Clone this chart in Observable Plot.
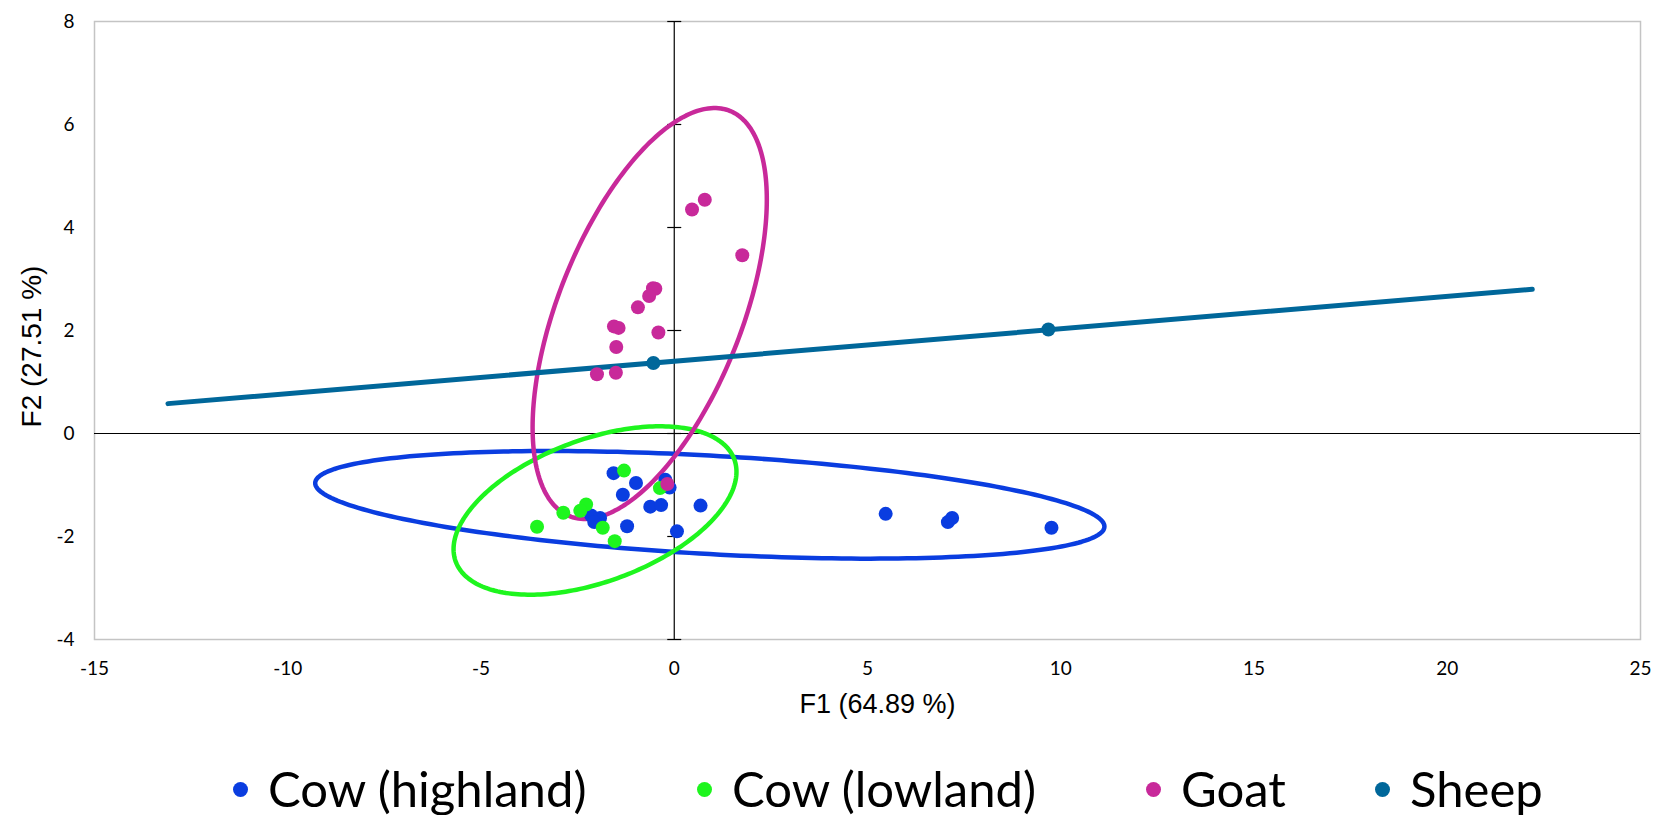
<!DOCTYPE html>
<html>
<head>
<meta charset="utf-8">
<script src="https://cdn.jsdelivr.net/npm/d3@7"></script>
<script src="https://cdn.jsdelivr.net/npm/@observablehq/plot@0.6"></script>
<style>
  html, body { margin: 0; padding: 0; background: #fff; overflow: hidden; }
  #chart { width: 1655px; }
  #legend { position: relative; width: 1655px; height: 80px; font-family: Lato, "Open Sans", sans-serif; }
  .item { position: absolute; top: 0; height: 80px; }
  .dot { position: absolute; width: 15px; height: 15px; border-radius: 50%; top: 47px; left: 0; }
  .lab { position: absolute; left: 35px; top: 29px; font-size: 49px; line-height: 49px; white-space: nowrap; color: #000; }
  .title { font-family: "Liberation Sans", Arial, sans-serif; }
</style>
</head>
<body>
<div id="chart"></div>
<div id="legend"></div>
<script>
// ---- data ----
const xTicks = [-15, -10, -5, 0, 5, 10, 15, 20, 25];
const yTicks = [-4, -2, 0, 2, 4, 6, 8];

const seriesNames = ["Cow (highland)", "Cow (lowland)", "Goat", "Sheep"];
const seriesColors = ["#0a3de0", "#1ef51e", "#c8299a", "#00679a"];

const cowHighlandX = [-1.57, -0.99, -1.33, -0.23, -0.12, -0.62, -0.34, 0.68, -2.15, -1.92, -2.07, -1.22, 0.07, 5.47, 7.08, 7.19, 9.76];
const cowHighlandY = [-0.77, -0.96, -1.19, -0.90, -1.05, -1.42, -1.39, -1.40, -1.59, -1.64, -1.72, -1.80, -1.90, -1.56, -1.72, -1.64, -1.83];

const cowLowlandX = [-1.30, -0.37, -2.28, -2.43, -2.87, -3.55, -1.85, -1.54];
const cowLowlandY = [-0.72, -1.06, -1.38, -1.50, -1.54, -1.81, -1.83, -2.09];

const goatX = [0.46, 0.79, 1.76, -0.55, -0.49, -0.65, -0.94, -1.56, -1.44, -0.41, -1.50, -2.00, -1.51, -0.18];
const goatY = [4.35, 4.54, 3.46, 2.82, 2.81, 2.67, 2.45, 2.08, 2.05, 1.96, 1.68, 1.15, 1.18, -0.98];

const sheepX = [-0.54, 9.68];
const sheepY = [1.37, 2.02];

// degenerate confidence ellipse of Sheep (a segment)
const sheepLineX = [-13.1, 22.2];
const sheepLineY = [0.58, 2.80];

// confidence ellipses: centre, x/y half-extents, covariance term
const ellipseGroups = ["Cow (highland)", "Cow (lowland)", "Goat"];
const ellipseCx = [0.92, -2.05, -0.635];
const ellipseCy = [-1.385, -1.495, 2.33];
const ellipseSx = [10.21, 3.66, 3.03];
const ellipseSy = [1.045, 1.635, 3.99];
const ellipseCov = [-4.3, 2.75, 6.7];

// ---- build tables ----
const pts = (name, xs, ys) => xs.map((x, i) => ({series: name, x, y: ys[i]}));
const cowH = pts(seriesNames[0], cowHighlandX, cowHighlandY);
const cowL = pts(seriesNames[1], cowLowlandX, cowLowlandY);
const goat = pts(seriesNames[2], goatX, goatY);
const sheep = pts(seriesNames[3], sheepX, sheepY);
const sheepLine = pts(seriesNames[3], sheepLineX, sheepLineY);

function ellipse(i) {
  const n = 240, out = [];
  const sx = ellipseSx[i], k = ellipseCov[i] / sx;
  const r = Math.sqrt(ellipseSy[i] * ellipseSy[i] - k * k);
  for (let j = 0; j <= n; j++) {
    const t = 2 * Math.PI * j / n;
    out.push({series: ellipseGroups[i],
      x: ellipseCx[i] + sx * Math.cos(t),
      y: ellipseCy[i] + k * Math.cos(t) + r * Math.sin(t)});
  }
  return out;
}
const ellipses = ellipseGroups.map((g, i) => ellipse(i));

const tickSymbol = {draw(ctx, size) { const r = Math.sqrt(size / Math.PI); ctx.moveTo(-r, 0); ctx.lineTo(r, 0); }};

const W = 1655, H = 735;
const tickFont = "Lato, 'Open Sans', sans-serif";
const titleFont = "Liberation Sans";

const chart = Plot.plot({
  width: W, height: H,
  marginLeft: 94, marginRight: 15, marginTop: 21, marginBottom: H - 639,
  x: {domain: [-15, 25]},
  y: {domain: [-4, 8]},
  style: {background: "#fff", color: "#000"},
  marks: [
    Plot.frame({stroke: "#c4c4c4", strokeWidth: 1.5}),
    Plot.axisX({ticks: xTicks, tickSize: 0, tickPadding: 22, tickFormat: d => String(d), fontSize: 19, fontFamily: tickFont, label: null}),
    Plot.axisY({ticks: yTicks, tickSize: 0, tickPadding: 20, tickFormat: d => String(d), fontSize: 19, fontFamily: tickFont, label: null}),
    Plot.ruleY([0], {stroke: "#000", strokeWidth: 1.2}),
    Plot.ruleX([0], {stroke: "#000", strokeWidth: 1.2}),
    Plot.dot(yTicks, {x: 0, y: d => d, symbol: tickSymbol, r: 7, stroke: "#000", strokeWidth: 1.2}),
    ...ellipses.map((e, i) => Plot.line(e, {x: "x", y: "y", stroke: seriesColors[i], strokeWidth: 4.5, curve: "linear"})),
    Plot.line(sheepLine, {x: "x", y: "y", stroke: seriesColors[3], strokeWidth: 5, strokeLinecap: "round"}),
    Plot.dot(cowH, {x: "x", y: "y", r: 7, fill: seriesColors[0]}),
    Plot.dot(cowL, {x: "x", y: "y", r: 7, fill: seriesColors[1]}),
    Plot.dot(goat, {x: "x", y: "y", r: 7, fill: seriesColors[2]}),
    Plot.dot(sheep, {x: "x", y: "y", r: 7, fill: seriesColors[3]}),
    Plot.text(["F1 (64.89 %)"], {frameAnchor: "bottom", textAnchor: "middle", dx: 10, dy: 65, fontSize: 27, fontFamily: titleFont, lineAnchor: "middle", fill: "#000"}),
    Plot.text(["F2 (27.51 %)"], {frameAnchor: "left", textAnchor: "middle", dx: -62, dy: 16, rotate: -90, fontSize: 28, fontFamily: titleFont, lineAnchor: "middle", fill: "#000"})
  ]
});
document.getElementById("chart").appendChild(chart);

// ---- legend ----
const legendLeft = [233, 697, 1146, 1375];
const legend = document.getElementById("legend");
seriesNames.forEach((name, i) => {
  const item = document.createElement("div");
  item.className = "item";
  item.style.left = legendLeft[i] + "px";
  const dot = document.createElement("div");
  dot.className = "dot";
  dot.style.background = seriesColors[i];
  const lab = document.createElement("div");
  lab.className = "lab";
  lab.textContent = name;
  item.appendChild(dot);
  item.appendChild(lab);
  legend.appendChild(item);
});
</script>
</body>
</html>
